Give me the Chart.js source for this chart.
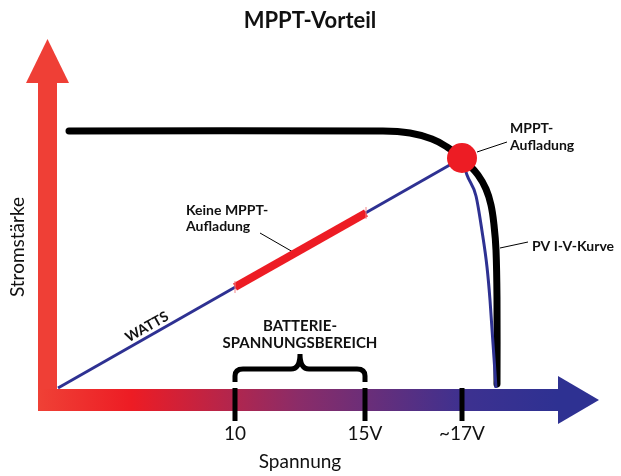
<!DOCTYPE html>
<html>
<head>
<meta charset="utf-8">
<script src="https://cdn.jsdelivr.net/npm/chart.js@4/dist/chart.umd.min.js"></script>
<style>
  body { margin: 0; background: #fff; }
  #wrap { width: 621px; height: 476px; }
</style>
</head>
<body>
<div id="wrap"><canvas id="chart"></canvas></div>
<script>
// schematic units (the source diagram has no real scale): x = Spannung, y = Stromstärke
const ivCurve = [
  { x: 11, y: 257 }, { x: 325, y: 257 }, { x: 352, y: 255 }, { x: 374, y: 249 },
  { x: 389, y: 241 }, { x: 400, y: 233 }, { x: 410, y: 224 }, { x: 420, y: 213 },
  { x: 428, y: 199 }, { x: 433, y: 183 }, { x: 436, y: 163 }, { x: 438, y: 138 },
  { x: 439, y: 88 }, { x: 439, y: 4 },
];
const wattsLine = [{ x: 0, y: 0 }, { x: 404, y: 230 }];
const wattsDrop = [
  { x: 404, y: 230 }, { x: 409, y: 213 }, { x: 418, y: 192 }, { x: 424, y: 157 },
  { x: 429, y: 121 }, { x: 432, y: 88 }, { x: 438, y: 0 },
];
const noMpptSpan = [{ x: 177, y: 101 }, { x: 308, y: 175 }];
const mpptPoint = [{ x: 404, y: 230 }];
const voltTicks = [177, 307, 404];
const voltLabels = ["10", "15V", "~17V"];
const batteryRange = [177, 307];
const leaderNoMppt = [{ x: 202, y: 155 }, { x: 235, y: 136 }];
const leaderMppt = [{ x: 419, y: 236 }, { x: 449, y: 246 }];
const leaderCurve = [{ x: 442, y: 140 }, { x: 470, y: 146 }];

const RED = "#ed1c24";
const BLUE = "#2e3192";
const FONT = "Lato, 'Noto Sans', sans-serif";

const diagramPlugin = {
  id: "diagram",
  beforeDraw(chart) {
    const ctx = chart.ctx;
    const xs = chart.scales.x, ys = chart.scales.y;
    const ox = xs.getPixelForValue(0), oy = ys.getPixelForValue(0);
    const xEnd = xs.getPixelForValue(xs.max), yEnd = ys.getPixelForValue(ys.max);
    ctx.save();

    // y arrow
    ctx.fillStyle = "#ef3f36";
    ctx.fillRect(ox - 20, yEnd + 44, 19, oy + 23 - (yEnd + 44));
    ctx.beginPath();
    ctx.moveTo(ox - 10.5, yEnd);
    ctx.lineTo(ox - 32, yEnd + 44);
    ctx.lineTo(ox + 11, yEnd + 44);
    ctx.closePath();
    ctx.fill();

    // x arrow with red -> blue gradient
    const g = ctx.createLinearGradient(ox - 20, 0, xEnd - 41, 0);
    g.addColorStop(0, "#ef4136");
    g.addColorStop(0.18, "#ed1c24");
    g.addColorStop(0.5, "#8b2c68");
    g.addColorStop(0.82, "#3d3190");
    g.addColorStop(1, BLUE);
    ctx.fillStyle = g;
    ctx.fillRect(ox - 20, oy + 1, xEnd - 41 - (ox - 20), 22);
    ctx.fillStyle = BLUE;
    ctx.beginPath();
    ctx.moveTo(xEnd - 41, oy - 12);
    ctx.lineTo(xEnd, oy + 12);
    ctx.lineTo(xEnd - 41, oy + 36);
    ctx.closePath();
    ctx.fill();

    // voltage ticks
    ctx.fillStyle = "#000";
    voltTicks.forEach((v) => {
      const px = xs.getPixelForValue(v);
      ctx.fillRect(px - 2.5, oy, 5, 33);
    });

    // battery range brace
    const xl = xs.getPixelForValue(batteryRange[0]);
    const xr = xs.getPixelForValue(batteryRange[1]);
    const xm = (xl + xr) / 2;
    const yb = oy - 6, yh = oy - 19, yp = oy - 34;
    ctx.strokeStyle = "#000";
    ctx.lineWidth = 5;
    ctx.beginPath();
    ctx.moveTo(xl, yb);
    ctx.lineTo(xl, yh + 7);
    ctx.quadraticCurveTo(xl, yh, xl + 8, yh);
    ctx.lineTo(xm - 9, yh);
    ctx.quadraticCurveTo(xm, yh, xm, yp);
    ctx.quadraticCurveTo(xm, yh, xm + 9, yh);
    ctx.lineTo(xr - 8, yh);
    ctx.quadraticCurveTo(xr, yh, xr, yh + 7);
    ctx.lineTo(xr, yb);
    ctx.stroke();
    ctx.restore();
  },
  afterDatasetsDraw(chart) {
    const ctx = chart.ctx;
    const xs = chart.scales.x, ys = chart.scales.y;
    ctx.save();
    // small end marks on the red span
    ctx.strokeStyle = "#f4868a";
    ctx.lineWidth = 1;
    noMpptSpan.forEach((p) => {
      const px = xs.getPixelForValue(p.x), py = ys.getPixelForValue(p.y);
      ctx.beginPath();
      ctx.moveTo(px, py - 6);
      ctx.lineTo(px, py + 6);
      ctx.stroke();
    });
    ctx.restore();
  },
  afterDraw(chart) {
    const ctx = chart.ctx;
    const xs = chart.scales.x, ys = chart.scales.y;
    const ox = xs.getPixelForValue(0), oy = ys.getPixelForValue(0);
    ctx.save();
    ctx.fillStyle = "#111";
    ctx.textBaseline = "middle";

    ctx.font = "bold 22px " + FONT;
    ctx.textAlign = "center";
    ctx.fillText("MPPT-Vorteil", 310, 21);

    // tick labels
    ctx.font = "19px " + FONT;
    voltTicks.forEach((v, i) => {
      ctx.fillText(voltLabels[i], xs.getPixelForValue(v), oy + 46);
    });
    const xm = (xs.getPixelForValue(batteryRange[0]) + xs.getPixelForValue(batteryRange[1])) / 2;
    ctx.fillText("Spannung", xm, oy + 74);

    ctx.save();
    ctx.translate(ox - 40, 247);
    ctx.rotate(-Math.PI / 2);
    ctx.fillText("Stromstärke", 0, 0);
    ctx.restore();

    // annotations
    ctx.font = "bold 15px " + FONT;
    ctx.fillText("BATTERIE-", xm, oy - 62);
    ctx.fillText("SPANNUNGSBEREICH", xm, oy - 45);

    ctx.textAlign = "left";
    ctx.font = "bold 14px " + FONT;
    ctx.fillText("Keine MPPT-", 186, 210);
    ctx.fillText("Aufladung", 186, 226);
    ctx.fillText("MPPT-", 510, 128);
    ctx.fillText("Aufladung", 510, 145);
    ctx.fillText("PV I-V-Kurve", 532, 246);

    // WATTS along the power line
    const p0 = wattsLine[0], p1 = wattsLine[1];
    const ang = Math.atan2(ys.getPixelForValue(p1.y) - ys.getPixelForValue(p0.y),
                           xs.getPixelForValue(p1.x) - xs.getPixelForValue(p0.x));
    const u = 93.4;
    ctx.translate(xs.getPixelForValue(u), ys.getPixelForValue(u * p1.y / p1.x));
    ctx.rotate(ang);
    ctx.textAlign = "center";
    ctx.font = "bold 14px " + FONT;
    ctx.fillText("WATTS", 0, -9);
    ctx.restore();
  },
};

const lineSet = (data, color, width, order, extra) => Object.assign({
  data, borderColor: color, backgroundColor: color, borderWidth: width,
  pointRadius: 0, fill: false, clip: false, order,
}, extra || {});

new Chart(document.getElementById("chart"), {
  type: "line",
  plugins: [diagramPlugin],
  data: {
    datasets: [
      lineSet(mpptPoint, RED, 0, 0, { pointRadius: 15, pointBackgroundColor: RED, showLine: false }),
      lineSet(noMpptSpan, RED, 8, 1, { borderCapStyle: "butt" }),
      lineSet(wattsLine, BLUE, 3, 2),
      lineSet(wattsDrop, BLUE, 3, 2, { cubicInterpolationMode: "monotone" }),
      lineSet(ivCurve, "#000", 7, 3, { tension: 0.4, borderCapStyle: "round" }),
      lineSet(leaderNoMppt, "#000", 1, 4),
      lineSet(leaderMppt, "#000", 1, 4),
      lineSet(leaderCurve, "#000", 1, 4),
    ],
  },
  options: {
    responsive: true,
    maintainAspectRatio: false,
    animation: false,
    layout: { padding: { left: 58, right: 22, top: 39, bottom: 88 } },
    scales: {
      x: { type: "linear", display: false, min: 0, max: 541 },
      y: { type: "linear", display: false, min: 0, max: 349 },
    },
    plugins: {
      legend: { display: false },
      tooltip: { enabled: false },
    },
  },
});
</script>
</body>
</html>
